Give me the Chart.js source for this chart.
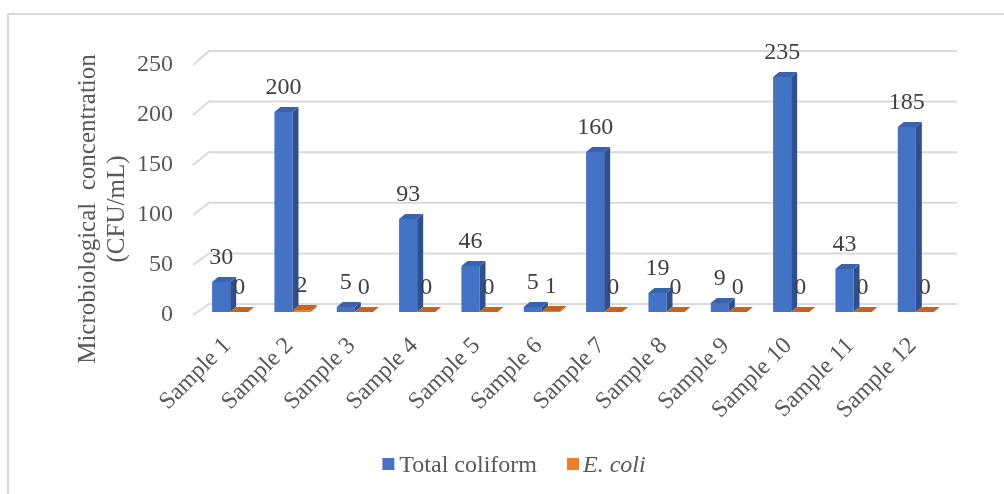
<!DOCTYPE html>
<html>
<head>
<meta charset="utf-8">
<script src="https://cdn.jsdelivr.net/npm/chart.js@4.4.1/dist/chart.umd.min.js"></script>
<style>
html, body { margin: 0; padding: 0; background: #fff; }
#wrap { position: relative; width: 1004px; height: 494px; overflow: hidden; }
#frame { position: absolute; left: 7px; top: 13px; width: 1100px; height: 600px; border: 2px solid #d9d9d9; box-sizing: border-box; }
canvas { position: absolute; left: 0; top: 0; }
</style>
</head>
<body>
<div id="wrap">
	<div id="frame"></div>
	<canvas id="myBarChart" width="1004" height="494"></canvas>
</div>
<script>
//chart data
var sampleLabels = ["Sample 1", "Sample 2", "Sample 3", "Sample 4", "Sample 5", "Sample 6",
	"Sample 7", "Sample 8", "Sample 9", "Sample 10", "Sample 11", "Sample 12"];
var totalColiform = [30, 200, 5, 93, 46, 5, 160, 19, 9, 235, 43, 185];
var eColi = [0, 2, 0, 0, 0, 1, 0, 0, 0, 0, 0, 0];
var yTicks = [0, 50, 100, 150, 200, 250];
var seriesNames = ["Total coliform", "E. coli"];
var yTitle = ["Microbiological  concentration", "(CFU/mL)"];

var serif = "'Liberation Serif', 'Times New Roman', serif";
var textGrey = "#595959";

//colours for each series: front, side, top
var faceColors = [
	{ front: "#4472C4", side: "#2E5090", top: "#3A63AE" },
	{ front: "#ED7D31", side: "#B45A1E", top: "#C8621C" }
];

//depth of the bars
var barDx = 6, barDy = -5;

var bar3d = {
	id: "bar3d",
	beforeDatasetsDraw: function(chart) {
		//back wall gridlines with the little diagonal from the front
		var ctx = chart.ctx;
		var area = chart.chartArea;
		var y = chart.scales.y;
		ctx.save();
		ctx.strokeStyle = "#d9d9d9";
		ctx.lineWidth = 2;
		for (var i = 0; i < yTicks.length; i++) {
			var v = yTicks[i];
			var front = y.getPixelForValue(v);
			var back = front - 8 - (v / y.max) * 3;
			ctx.beginPath();
			ctx.moveTo(area.left - 6, front + 3);
			ctx.lineTo(area.left + 10, back);
			ctx.lineTo(area.right + 10, back);
			ctx.stroke();
		}
		ctx.restore();
	},
	afterDatasetsDraw: function(chart) {
		var ctx = chart.ctx;
		ctx.save();
		//side and top faces
		for (var d = 0; d < chart.data.datasets.length; d++) {
			var meta = chart.getDatasetMeta(d);
			var col = faceColors[d];
			for (var i = 0; i < meta.data.length; i++) {
				var bar = meta.data[i];
				var left = bar.x - bar.width / 2;
				var right = bar.x + bar.width / 2;
				var top = Math.min(bar.y, bar.base);
				var bottom = bar.base;
				//side
				ctx.fillStyle = col.side;
				ctx.beginPath();
				ctx.moveTo(right, bottom);
				ctx.lineTo(right + barDx, bottom + barDy);
				ctx.lineTo(right + barDx, top + barDy);
				ctx.lineTo(right, top);
				ctx.closePath();
				ctx.fill();
				//top
				ctx.fillStyle = col.top;
				ctx.beginPath();
				ctx.moveTo(left, top);
				ctx.lineTo(left + barDx, top + barDy);
				ctx.lineTo(right + barDx, top + barDy);
				ctx.lineTo(right, top);
				ctx.closePath();
				ctx.fill();
			}
		}
		//value labels
		ctx.font = "24px " + serif;
		ctx.fillStyle = "#404040";
		ctx.textAlign = "center";
		ctx.textBaseline = "middle";
		for (var d2 = 0; d2 < chart.data.datasets.length; d2++) {
			var meta2 = chart.getDatasetMeta(d2);
			var vals = chart.data.datasets[d2].data;
			for (var j = 0; j < meta2.data.length; j++) {
				var b = meta2.data[j];
				ctx.fillText(String(vals[j]), b.x, Math.min(b.y, b.base) - 24);
			}
		}
		ctx.restore();
	},
	afterDraw: function(chart) {
		var ctx = chart.ctx;
		var area = chart.chartArea;
		ctx.save();
		//axis title, two lines rotated
		ctx.fillStyle = textGrey;
		ctx.font = "25px " + serif;
		ctx.textAlign = "center";
		ctx.textBaseline = "middle";
		var cy = (area.top + area.bottom) / 2 + 22;
		var lineX = [88, 117];
		for (var t = 0; t < yTitle.length; t++) {
			ctx.save();
			ctx.translate(lineX[t], cy);
			ctx.rotate(-Math.PI / 2);
			ctx.fillText(yTitle[t], 0, 0);
			ctx.restore();
		}
		//legend
		var pad = chart.options.layout.padding;
		var center = (pad.left + chart.width - pad.right) / 2;
		var box = 12;
		ctx.textAlign = "left";
		ctx.textBaseline = "alphabetic";
		ctx.font = "24px " + serif;
		var w1 = ctx.measureText(seriesNames[0]).width;
		ctx.font = "italic 24px " + serif;
		var w2 = ctx.measureText(seriesNames[1]).width;
		var total = box + 5 + w1 + 30 + box + 4 + w2;
		var x = center - total / 2;
		var baseY = 472;
		ctx.fillStyle = faceColors[0].front;
		ctx.fillRect(x, baseY - 14, box, box);
		x += box + 5;
		ctx.fillStyle = textGrey;
		ctx.font = "24px " + serif;
		ctx.fillText(seriesNames[0], x, baseY);
		x += w1 + 30;
		ctx.fillStyle = faceColors[1].front;
		ctx.fillRect(x, baseY - 14, box, box);
		x += box + 4;
		ctx.fillStyle = textGrey;
		ctx.font = "italic 24px " + serif;
		ctx.fillText(seriesNames[1], x, baseY);
		ctx.restore();
	}
};

var ctxBar = document.getElementById("myBarChart");
var myBarChart = new Chart(ctxBar, {
	type: "bar",
	data: {
		labels: sampleLabels,
		datasets: [{
			label: seriesNames[0],
			data: totalColiform,
			backgroundColor: faceColors[0].front,
			categoryPercentage: 0.58,
			barPercentage: 1.0
		}, {
			label: seriesNames[1],
			data: eColi,
			backgroundColor: faceColors[1].front,
			categoryPercentage: 0.58,
			barPercentage: 1.0
		}]
	},
	options: {
		responsive: false,
		animation: false,
		layout: { padding: { left: 81, right: 57, top: 62, bottom: 72 } },
		plugins: {
			legend: { display: false },
			tooltip: { enabled: false }
		},
		scales: {
			x: {
				grid: { display: false, drawTicks: false },
				border: { display: false },
				afterFit: function(scale) { scale.height = 110; },
				ticks: {
					minRotation: 45,
					maxRotation: 45,
					padding: 20,
					labelOffset: -3,
					color: textGrey,
					font: { family: serif, size: 24 }
				}
			},
			y: {
				min: 0,
				max: 250,
				grid: { display: false, drawTicks: false },
				border: { display: false },
				afterBuildTicks: function(scale) {
					scale.ticks = yTicks.map(function(v) { return { value: v }; });
				},
				afterFit: function(scale) { scale.width = 118; },
				ticks: {
					padding: 26,
					labelOffset: 3,
					color: textGrey,
					font: { family: serif, size: 24 }
				}
			}
		}
	},
	plugins: [bar3d]
});
</script>
</body>
</html>
